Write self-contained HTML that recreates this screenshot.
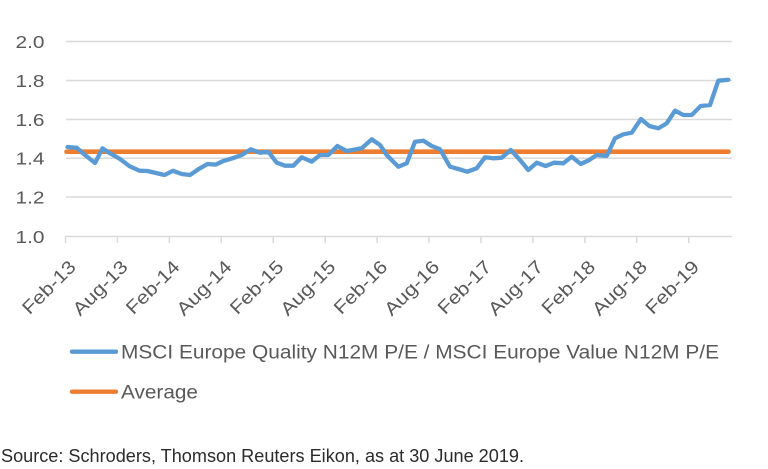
<!DOCTYPE html>
<html>
<head>
<meta charset="utf-8">
<style>
  html, body { margin: 0; padding: 0; background: #ffffff; }
  svg { display: block; }
  text { font-family: "Liberation Sans", "DejaVu Sans", sans-serif; }
</style>
</head>
<body>
<svg width="768" height="469" viewBox="0 0 768 469" xmlns="http://www.w3.org/2000/svg">
  <rect x="0" y="0" width="768" height="469" fill="#ffffff"/>

  <!-- gridlines -->
  <g stroke="#d9d9d9" stroke-width="1.5" fill="none">
    <line x1="66" y1="41.5" x2="732" y2="41.5"/>
    <line x1="66" y1="80.5" x2="732" y2="80.5"/>
    <line x1="66" y1="119.5" x2="732" y2="119.5"/>
    <line x1="66" y1="158.3" x2="732" y2="158.3"/>
    <line x1="66" y1="197" x2="732" y2="197"/>
    <line x1="65" y1="236.5" x2="732" y2="236.5"/>
  </g>
  <!-- ticks -->
  <g stroke="#d9d9d9" stroke-width="1.5">
    <line x1="65.5" y1="236.5" x2="65.5" y2="243"/>
    <line x1="117.4" y1="236.5" x2="117.4" y2="243"/>
    <line x1="169.3" y1="236.5" x2="169.3" y2="243"/>
    <line x1="221.3" y1="236.5" x2="221.3" y2="243"/>
    <line x1="273.2" y1="236.5" x2="273.2" y2="243"/>
    <line x1="325.2" y1="236.5" x2="325.2" y2="243"/>
    <line x1="377.1" y1="236.5" x2="377.1" y2="243"/>
    <line x1="429" y1="236.5" x2="429" y2="243"/>
    <line x1="481" y1="236.5" x2="481" y2="243"/>
    <line x1="532.9" y1="236.5" x2="532.9" y2="243"/>
    <line x1="584.9" y1="236.5" x2="584.9" y2="243"/>
    <line x1="636.8" y1="236.5" x2="636.8" y2="243"/>
    <line x1="688.7" y1="236.5" x2="688.7" y2="243"/>
  </g>

  <!-- y labels -->
  <g fill="#595959" font-size="17.5" text-anchor="end">
    <text x="44.5" y="47.8" textLength="29" lengthAdjust="spacingAndGlyphs">2.0</text>
    <text x="44.5" y="86.8" textLength="29" lengthAdjust="spacingAndGlyphs">1.8</text>
    <text x="44.5" y="125.8" textLength="29" lengthAdjust="spacingAndGlyphs">1.6</text>
    <text x="44.5" y="164.6" textLength="29" lengthAdjust="spacingAndGlyphs">1.4</text>
    <text x="44.5" y="203.3" textLength="29" lengthAdjust="spacingAndGlyphs">1.2</text>
    <text x="44.5" y="242.8" textLength="29" lengthAdjust="spacingAndGlyphs">1.0</text>
  </g>

  <!-- x labels -->
  <g fill="#595959" font-size="18.5" text-anchor="end">
    <text transform="translate(77,268) rotate(-45)" textLength="67" lengthAdjust="spacingAndGlyphs">Feb-13</text>
    <text transform="translate(128.9,268) rotate(-45)" textLength="69" lengthAdjust="spacingAndGlyphs">Aug-13</text>
    <text transform="translate(180.8,268) rotate(-45)" textLength="67" lengthAdjust="spacingAndGlyphs">Feb-14</text>
    <text transform="translate(232.8,268) rotate(-45)" textLength="69" lengthAdjust="spacingAndGlyphs">Aug-14</text>
    <text transform="translate(284.7,268) rotate(-45)" textLength="67" lengthAdjust="spacingAndGlyphs">Feb-15</text>
    <text transform="translate(336.7,268) rotate(-45)" textLength="69" lengthAdjust="spacingAndGlyphs">Aug-15</text>
    <text transform="translate(388.6,268) rotate(-45)" textLength="67" lengthAdjust="spacingAndGlyphs">Feb-16</text>
    <text transform="translate(440.5,268) rotate(-45)" textLength="69" lengthAdjust="spacingAndGlyphs">Aug-16</text>
    <text transform="translate(492.5,268) rotate(-45)" textLength="67" lengthAdjust="spacingAndGlyphs">Feb-17</text>
    <text transform="translate(544.4,268) rotate(-45)" textLength="69" lengthAdjust="spacingAndGlyphs">Aug-17</text>
    <text transform="translate(596.4,268) rotate(-45)" textLength="67" lengthAdjust="spacingAndGlyphs">Feb-18</text>
    <text transform="translate(648.3,268) rotate(-45)" textLength="69" lengthAdjust="spacingAndGlyphs">Aug-18</text>
    <text transform="translate(700.2,268) rotate(-45)" textLength="67" lengthAdjust="spacingAndGlyphs">Feb-19</text>
  </g>

  <!-- average line -->
  <line x1="66.5" y1="151.7" x2="728.5" y2="151.7" stroke="#ED7D31" stroke-width="4.6" stroke-linecap="round"/>

  <!-- series -->
  <polyline fill="none" stroke="#5B9BD5" stroke-width="4.3" stroke-linejoin="round" stroke-linecap="round"
    points="67.5,147 76.7,147.8 85,155 95,163 102.5,148.3 110,153.3 120,159 129.5,166.2 139.5,170.7 147.5,171 156,173 164.5,175 173,170.8 181.7,174 190,175 198.3,169.3 207.5,164 215.8,164.6 223.3,161 232.5,158.3 241.7,155 250.7,149.3 260,152.7 268.3,151.7 276.7,162.7 285,165.7 293.3,165.7 301.7,157.3 311.7,161.7 320,155 328.3,155 337.3,146 346.7,151 355,149.5 361.7,148.3 371.7,139.3 380,145 386.7,155 398.3,166.7 406.7,163.3 415,141.7 423.3,140.7 431.7,146 440,149.3 450,166.7 458.3,169 467.3,171.7 476.7,168.3 485,157.3 493.3,158.3 501.7,157.7 510.7,150 520,160 528.3,170 536.7,162.7 545.7,166 554,162.7 563.3,163.3 571.7,156.7 580.7,164 589.3,160 596.7,155 606.7,156 615,138.3 623.3,134.3 631.7,132.7 641,119 649.3,126 658.3,128.3 666.7,123.3 675,110.7 683.3,115 691.7,115 700.7,106 710,105 718.3,80.7 728.3,79.8"/>

  <!-- legend -->
  <line x1="72" y1="351.7" x2="116" y2="351.7" stroke="#5B9BD5" stroke-width="4.3" stroke-linecap="round"/>
  <text x="121" y="358.5" fill="#595959" font-size="19" textLength="598" lengthAdjust="spacingAndGlyphs">MSCI Europe Quality N12M P/E / MSCI Europe Value N12M P/E</text>
  <line x1="72" y1="391.7" x2="116" y2="391.7" stroke="#ED7D31" stroke-width="4.3" stroke-linecap="round"/>
  <text x="121" y="398.5" fill="#595959" font-size="19" textLength="77" lengthAdjust="spacingAndGlyphs">Average</text>

  <!-- source -->
  <text x="1" y="462" fill="#2b2b2b" font-size="18" textLength="523" lengthAdjust="spacingAndGlyphs">Source: Schroders, Thomson Reuters Eikon, as at 30 June 2019.</text>
</svg>
</body>
</html>
